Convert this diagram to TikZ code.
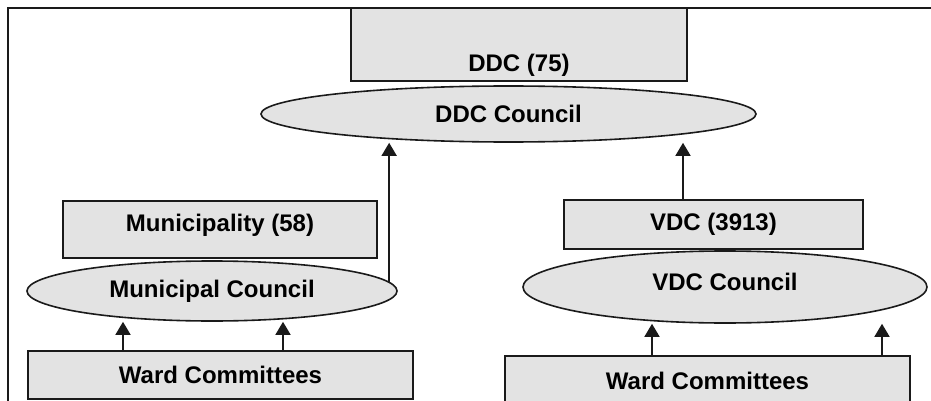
\documentclass[tikz,border=0pt]{standalone}
\usepackage{fontspec}
\setmainfont{Liberation Sans}
\usepackage{xcolor}
\usetikzlibrary{positioning,arrows.meta,shapes.geometric}
\definecolor{frame}{HTML}{1A1A1A}
\definecolor{boxfill}{HTML}{E3E3E3}

\begin{document}
\begin{tikzpicture}[
    x=1pt, y=-1pt,
    block/.style={draw=frame, line width=1.6pt, fill=boxfill, inner sep=0pt, align=center, font=\fontsize{24}{28}\selectfont\bfseries},
    council/.style={block, ellipse},
    arr/.style={-{Triangle[length=13pt, width=15pt]}, line width=1.6pt, draw=frame}
]
    \useasboundingbox (0,0) rectangle (931,401);
    \clip (0,0) rectangle (931,401);

    % outer frame
    \draw[frame, line width=1.8pt] (8,420) -- (8,8) -- (940,8);

    % district level
    \node[block, minimum width=336pt, minimum height=73pt, text height=54pt, text depth=0pt] (ddc) at (519,44.5) {DDC (75)};
    \node[council, minimum width=495pt, minimum height=56pt] (ddcc) at (508.5,114) {DDC Council};

    % municipal side
    \node[block, minimum width=314pt, minimum height=57pt, text height=17pt, text depth=13pt] (muni) at (220,229.5) {Municipality (58)};
    \node[council, minimum width=370pt, minimum height=60pt] (munic) at (212,291) {Municipal Council};
    \node[block, minimum width=385pt, minimum height=48pt] (wardl) at (220.5,375) {Ward Committees};

    % village side
    \node[block, minimum width=299pt, minimum height=49pt] (vdc) at (713.5,224.5) {VDC (3913)};
    \node[council, minimum width=404pt, minimum height=72pt, text height=17pt, text depth=10pt] (vdcc) at (725,287) {VDC Council};
    \node[block, minimum width=405pt, minimum height=50pt] (wardr) at (707.5,381) {Ward Committees};

    % connectors
    \draw[arr] (munic.3) -- (munic.3 |- ddcc.south);
    \draw[arr] ([xshift=-30.5pt]vdc.north) -- ([xshift=-30.5pt]vdc.north |- ddcc.south);
    \draw[arr] ([xshift=-97.5pt]wardl.north) -- ([xshift=-97.5pt]wardl.north |- munic.south);
    \draw[arr] ([xshift=62.5pt]wardl.north) -- ([xshift=62.5pt]wardl.north |- munic.south);
    \draw[arr] ([xshift=-55.5pt]wardr.north) -- ([xshift=-55.5pt]wardr.north |- vdcc.south);
    \draw[arr] ([xshift=174.5pt]wardr.north) -- ([xshift=174.5pt]wardr.north |- vdcc.south);
\end{tikzpicture}
\end{document}
